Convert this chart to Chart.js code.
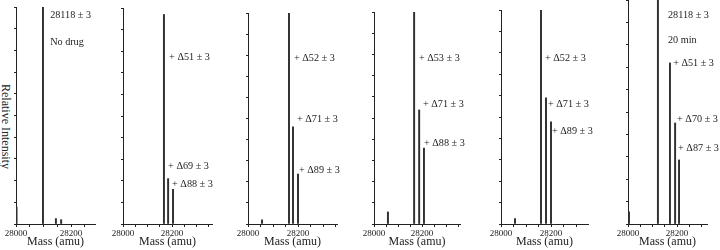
<!DOCTYPE html>
<html><head><meta charset="utf-8">
<script src="https://cdn.jsdelivr.net/npm/chart.js@4.4.1/dist/chart.umd.min.js"></script>
<style>
body{margin:0;background:#fff;width:720px;height:250px;position:relative;overflow:hidden;font-family:"Liberation Serif",serif}
canvas{position:absolute;top:0}
#ylab{position:absolute;left:-34px;top:118px;width:80px;text-align:center;font-size:12px;color:#222;transform:rotate(90deg);white-space:nowrap;line-height:12px}
</style>
</head><body>
<div id="ylab">Relative Intensity</div>
<script>
// ---- data (mass in amu, relative intensity in %) ----
const tickLabels = [28000, 28200];

const p1Mass = [28002, 28098, 28145, 28164];
const p1Int  = [7.8, 100, 2.5, 2];
const p2Mass = [28167, 28184, 28204];
const p2Int  = [97, 21, 16];
const p3Mass = [28056, 28164, 28180, 28200];
const p3Int  = [2, 100, 46, 23.7];
const p4Mass = [28058, 28167, 28188, 28208];
const p4Int  = [5.7, 100, 53.8, 35.8];
const p5Mass = [28056, 28160, 28180, 28200];
const p5Int  = [2.5, 100, 58.9, 47.7];
const p6Mass = [28004, 28122, 28171, 28192, 28208];
const p6Int  = [5.4, 100, 71.9, 45.1, 28.6];

const p1Notes = [{t:'28118 \u00b1 3', x:28124, y:96.3}, {t:'No drug', x:28124, y:83.9}];
const p2Notes = [{t:'+ \u039451 \u00b1 3', x:28188, y:77.3}, {t:'+ \u039469 \u00b1 3', x:28184, y:26.9}, {t:'+ \u039488 \u00b1 3', x:28200, y:18.5}];
const p3Notes = [{t:'+ \u039452 \u00b1 3', x:28184, y:78.7}, {t:'+ \u039471 \u00b1 3', x:28196, y:49.8}, {t:'+ \u039489 \u00b1 3', x:28204, y:25.6}];
const p4Notes = [{t:'+ \u039453 \u00b1 3', x:28187, y:78.3}, {t:'+ \u039471 \u00b1 3', x:28204, y:56.6}, {t:'+ \u039488 \u00b1 3', x:28208, y:38.2}];
const p5Notes = [{t:'+ \u039452 \u00b1 3', x:28176, y:77.6}, {t:'+ \u039471 \u00b1 3', x:28188, y:56.1}, {t:'+ \u039489 \u00b1 3', x:28204, y:43.5}];
const p6Notes = [{t:'28118 \u00b1 3', x:28163, y:93.3}, {t:'20 min', x:28163, y:82.1}, {t:'+ \u039451 \u00b1 3', x:28184, y:71.9}, {t:'+ \u039470 \u00b1 3', x:28200, y:46.9}, {t:'+ \u039487 \u00b1 3', x:28204, y:33.9}];

// ---- layout of the six panels (pixel frame) ----
const panels = [
  {mass:p1Mass, inten:p1Int, notes:p1Notes, left:16,  right:95,  top:7,  xMax:28287},
  {mass:p2Mass, inten:p2Int, notes:p2Notes, left:123, right:212, top:8,  xMax:28363},
  {mass:p3Mass, inten:p3Int, notes:p3Notes, left:248, right:337, top:13, xMax:28356},
  {mass:p4Mass, inten:p4Int, notes:p4Notes, left:374, right:460, top:12, xMax:28358},
  {mass:p5Mass, inten:p5Int, notes:p5Notes, left:501, right:588, top:10, xMax:28348},
  {mass:p6Mass, inten:p6Int, notes:p6Notes, left:628, right:707, top:0,  xMax:28322}
];

const INK = '#222';
const PEAK = '#303030';
const YW = 16, XH = 26, PADR = 14;

const notesPlugin = {
  id:'notes',
  afterDatasetsDraw(chart, args, opts){
    const ctx = chart.ctx, xs = chart.scales.x, ys = chart.scales.y;
    ctx.save();
    ctx.font = '10.2px "Liberation Serif"';
    ctx.fillStyle = INK;
    ctx.textAlign = 'left';
    ctx.textBaseline = 'middle';
    (opts.items || []).forEach(n => ctx.fillText(n.t, xs.getPixelForValue(n.x), ys.getPixelForValue(n.y)));
    ctx.restore();
  }
};

panels.forEach(p => {
  const cv = document.createElement('canvas');
  const w = YW + (p.right - p.left) + PADR;
  cv.width = w; cv.height = 250;
  cv.style.left = (p.left - YW) + 'px';
  cv.style.width = w + 'px'; cv.style.height = '250px';
  document.body.appendChild(cv);
  new Chart(cv, {
    type:'bar',
    data:{datasets:[{
      data: p.mass.map((m, i) => ({x:m, y:p.inten[i]})),
      backgroundColor: PEAK, borderWidth:0, barThickness:1.3
    }]},
    options:{
      responsive:false, animation:false, devicePixelRatio:1,
      layout:{padding:{top:p.top, right:PADR, left:0, bottom:0}},
      plugins:{legend:{display:false}, tooltip:{enabled:false}, notes:{items:p.notes}},
      scales:{
        x:{
          type:'linear', min:28000, max:p.xMax, offset:false,
          afterBuildTicks: s => { const t=[]; for(let v=28000; v<=p.xMax; v+=50) t.push({value:v}); s.ticks=t; },
          afterFit: s => { s.height = XH; },
          grid:{drawOnChartArea:false, offset:false, tickLength:3, color:INK, tickColor:INK},
          border:{color:INK, width:1},
          ticks:{autoSkip:false, maxRotation:0, padding:1, color:INK,
                 font:{family:'Liberation Serif', size:9},
                 callback: v => tickLabels.includes(v) ? String(v) : ''},
          title:{display:true, text:'Mass (amu)', color:INK,
                 font:{family:'Liberation Serif', size:12}, padding:{top:0, bottom:1}}
        },
        y:{
          min:0, max:100,
          afterFit: s => { s.width = YW; },
          grid:{drawOnChartArea:false, tickLength:2, color:INK},
          border:{color:INK, width:1},
          ticks:{display:false, stepSize:10}
        }
      }
    },
    plugins:[notesPlugin]
  });
});
</script>
</body></html>
